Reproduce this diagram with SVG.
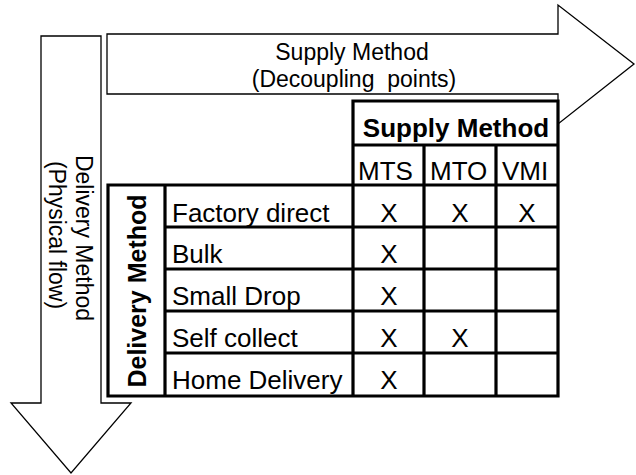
<svg xmlns="http://www.w3.org/2000/svg" width="636" height="475" viewBox="0 0 636 475">
<style>
.arrow{fill:#fff;stroke:#000;stroke-width:1.3;stroke-linejoin:miter}
.grid{stroke:#000;stroke-width:3.2;fill:none;stroke-linecap:square}
.t{font-family:"Liberation Sans",Arial,sans-serif;fill:#000}
.t23{font-size:23px}
.t26{font-size:26px}
.b{font-weight:bold}
.c{text-anchor:middle}
</style>
<rect width="636" height="475" fill="#fff"/>
<g id="delivery-arrow">
<path class="arrow" d="M41,36 L101,36 L101,403 L131,403 L71,473 L11,403 L41,403 Z"/>
<text class="t t23 c" transform="translate(76,238) rotate(90)">Delivery Method</text>
<text class="t t23 c" transform="translate(49,235) rotate(90)">(Physical flow)</text>
</g>
<g id="supply-arrow">
<path class="arrow" d="M107,34 L558,34 L558,5 L634,64 L558,124 L558,94 L107,94 Z"/>
<text class="t t23 c" x="352" y="60">Supply Method</text>
<text class="t t23 c" x="354" y="87" xml:space="preserve">(Decoupling  points)</text>
</g>
<g id="connectors"/>
<g id="matrix">
<path class="grid" d="M353,101 H558 V396 H108 V185 H558 M353,145 H558 M353,101 V396 M424,145 V396 M496,145 V396 M165,185 V396 M165,227 H558 M165,269 H558 M165,311 H558 M165,353 H558"/>
<text class="t t26 b c" x="456" y="137">Supply Method</text>
<text class="t t26" x="358" y="180">MTS</text>
<text class="t t26" x="430" y="180">MTO</text>
<text class="t t26" x="502" y="180">VMI</text>
<text class="t b c" font-size="25" transform="translate(146,291) rotate(-90)">Delivery Method</text>
<text class="t t26" x="172" y="222">Factory direct</text>
<text class="t t26" x="172" y="263">Bulk</text>
<text class="t t26" x="172" y="305">Small Drop</text>
<text class="t t26" x="172" y="347">Self collect</text>
<text class="t t26" x="172" y="389">Home Delivery</text>
<g class="t t26 c">
<text x="389" y="222">X</text>
<text x="460" y="222">X</text>
<text x="527" y="222">X</text>
<text x="389" y="263">X</text>
<text x="389" y="305">X</text>
<text x="389" y="347">X</text>
<text x="460" y="347">X</text>
<text x="389" y="389">X</text>
</g>
</g>
</svg>
